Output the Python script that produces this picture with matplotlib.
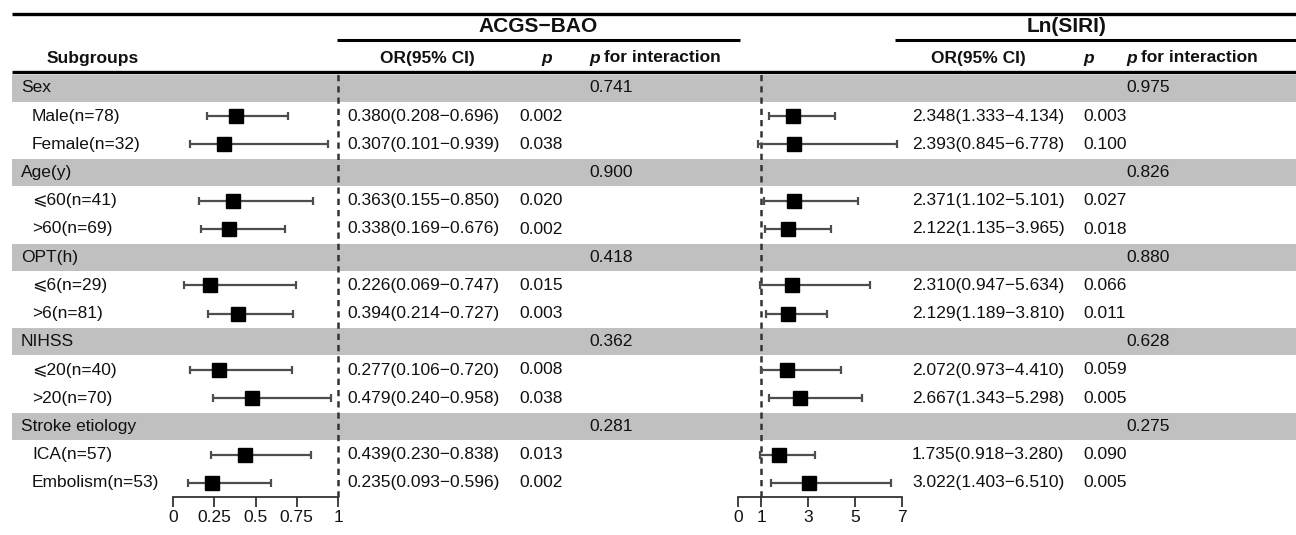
import matplotlib.pyplot as plt

plt.rcParams['font.family'] = ['Liberation Sans', 'DejaVu Sans']

# data
groups = ['Sex', 'Age(y)', 'OPT(h)', 'NIHSS', 'Stroke etiology']
levels = [['Male(n=78)', 'Female(n=32)'],
          ['⩽60(n=41)', '>60(n=69)'],
          ['⩽6(n=29)', '>6(n=81)'],
          ['⩽20(n=40)', '>20(n=70)'],
          ['ICA(n=57)', 'Embolism(n=53)']]

acgs_or = [0.380, 0.307, 0.363, 0.338, 0.226, 0.394, 0.277, 0.479, 0.439, 0.235]
acgs_lo = [0.208, 0.101, 0.155, 0.169, 0.069, 0.214, 0.106, 0.240, 0.230, 0.093]
acgs_hi = [0.696, 0.939, 0.850, 0.676, 0.747, 0.727, 0.720, 0.958, 0.838, 0.596]
acgs_p = ['0.002', '0.038', '0.020', '0.002', '0.015', '0.003', '0.008', '0.038', '0.013', '0.002']
acgs_pint = ['0.741', '0.900', '0.418', '0.362', '0.281']

siri_or = [2.348, 2.393, 2.371, 2.122, 2.310, 2.129, 2.072, 2.667, 1.735, 3.022]
siri_lo = [1.333, 0.845, 1.102, 1.135, 0.947, 1.189, 0.973, 1.343, 0.918, 1.403]
siri_hi = [4.134, 6.778, 5.101, 3.965, 5.634, 3.810, 4.410, 5.298, 3.280, 6.510]
siri_p = ['0.003', '0.100', '0.027', '0.018', '0.066', '0.011', '0.059', '0.005', '0.090', '0.005']
siri_pint = ['0.975', '0.826', '0.880', '0.628', '0.275']

acgs_ticks = [0, 0.25, 0.5, 0.75, 1]
acgs_ticklabels = ['0', '0.25', '0.5', '0.75', '1']
siri_ticks = [0, 1, 3, 5, 7]

W, H = 1296, 535
FS = 12.5
TXT = '#111111'
BAND = '#c0c0c0'
CI_COL = '#4d4d4d'

# row layout (pixels)
ROW0, STEP = 88, 28.2
TOP_BODY, AXIS_Y = 72, 497

def row_px(i):
    return ROW0 + STEP * i

# build row lists
header_rows, level_rows, level_names = [], [], []
r = 0
for g, lv in zip(groups, levels):
    header_rows.append(r)
    r += 1
    for name in lv:
        level_rows.append(r)
        level_names.append(name)
        r += 1

fig = plt.figure(figsize=(W / 100, H / 100), dpi=100)

# canvas for the table part, in pixel coords
ax = fig.add_axes([0, 0, 1, 1])
ax.set_xlim(0, W)
ax.set_ylim(H, 0)
ax.axis('off')

# shaded group rows
for i in header_rows:
    y = row_px(i)
    ax.fill_between([12, W], y - 13.5, y + 13.5, color=BAND, lw=0, zorder=0)

# rules
ax.plot([12, W], [14, 14], color='black', lw=2.4, solid_capstyle='butt')
ax.plot([12, W], [TOP_BODY, TOP_BODY], color='black', lw=2.4, solid_capstyle='butt')
ax.plot([337, 740], [40, 40], color='black', lw=2.2, solid_capstyle='butt')
ax.plot([895, W], [40, 40], color='black', lw=2.2, solid_capstyle='butt')

# titles and column headers
ax.text(538, 27, 'ACGS−BAO', ha='center', va='center', fontsize=15, fontweight='bold', color=TXT)
ax.text(1067, 27, 'Ln(SIRI)', ha='center', va='center', fontsize=15, fontweight='bold', color=TXT)
ax.text(93, 58, 'Subgroups', ha='center', va='center', fontsize=FS, fontweight='bold', color=TXT)
for x_or, x_p, x_pi in [(427, 547, 589), (978, 1089, 1126)]:
    ax.text(x_or, 58, 'OR(95% CI)', ha='center', va='center', fontsize=FS, fontweight='bold', color=TXT)
    ax.text(x_p, 58, 'p', ha='center', va='center', fontsize=FS, fontweight='bold', style='italic', color=TXT)
    ax.text(x_pi, 58, 'p', ha='left', va='center', fontsize=FS, fontweight='bold', style='italic', color=TXT)
    ax.text(x_pi + 15, 58, 'for interaction', ha='left', va='center', fontsize=FS,
            fontweight='bold', color=TXT)

# group names and interaction p
for k, i in enumerate(header_rows):
    y = row_px(i)
    ax.text(21, y, groups[k], ha='left', va='center', fontsize=FS, color=TXT)
    ax.text(589, y, acgs_pint[k], ha='left', va='center', fontsize=FS, color=TXT)
    ax.text(1126, y, siri_pint[k], ha='left', va='center', fontsize=FS, color=TXT)

# level rows
for k, i in enumerate(level_rows):
    y = row_px(i)
    ax.text(32, y, level_names[k], ha='left', va='center', fontsize=FS, color=TXT)
    ax.text(347, y, f'{acgs_or[k]:.3f}({acgs_lo[k]:.3f}−{acgs_hi[k]:.3f})',
            ha='left', va='center', fontsize=FS, color=TXT)
    ax.text(519, y, acgs_p[k], ha='left', va='center', fontsize=FS, color=TXT)
    ax.text(912, y, f'{siri_or[k]:.3f}({siri_lo[k]:.3f}−{siri_hi[k]:.3f})',
            ha='left', va='center', fontsize=FS, color=TXT)
    ax.text(1083, y, siri_p[k], ha='left', va='center', fontsize=FS, color=TXT)


def forest(x0, x1, xmax, est, lo, hi, ticks, ticklabels):
    fa = fig.add_axes([x0 / W, 1 - AXIS_Y / H, (x1 - x0) / W, (AXIS_Y - TOP_BODY) / H])
    fa.set_facecolor('none')
    fa.set_xlim(0, xmax)
    fa.set_ylim((AXIS_Y - ROW0) / STEP, (TOP_BODY - ROW0) / STEP)
    fa.axvline(1, color='#333333', ls=(0, (2.5, 2)), lw=1.8, zorder=1, clip_on=False)
    err = [[e - l for e, l in zip(est, lo)], [h - e for e, h in zip(est, hi)]]
    eb = fa.errorbar(est, level_rows, xerr=err, fmt='none', ecolor=CI_COL, elinewidth=1.6,
                     capsize=3.2, capthick=1.6, zorder=2)
    for art in eb.lines[1] + eb.lines[2]:
        art.set_clip_on(False)
    fa.plot(est, level_rows, 's', color='black', markersize=9.5, zorder=3)
    for s in ['top', 'left', 'right']:
        fa.spines[s].set_visible(False)
    fa.spines['bottom'].set_color('#333333')
    fa.spines['bottom'].set_linewidth(1.3)
    fa.set_yticks([])
    fa.set_xticks(ticks)
    fa.set_xticklabels(ticklabels, fontsize=FS, color=TXT)
    fa.tick_params(axis='x', direction='out', length=7, width=1.3, color='#333333', pad=2.5)
    return fa


forest(173, 338, 1, acgs_or, acgs_lo, acgs_hi, acgs_ticks, acgs_ticklabels)
forest(738, 902, 7, siri_or, siri_lo, siri_hi, siri_ticks, [str(t) for t in siri_ticks])

fig.savefig('out.png', dpi=100)
